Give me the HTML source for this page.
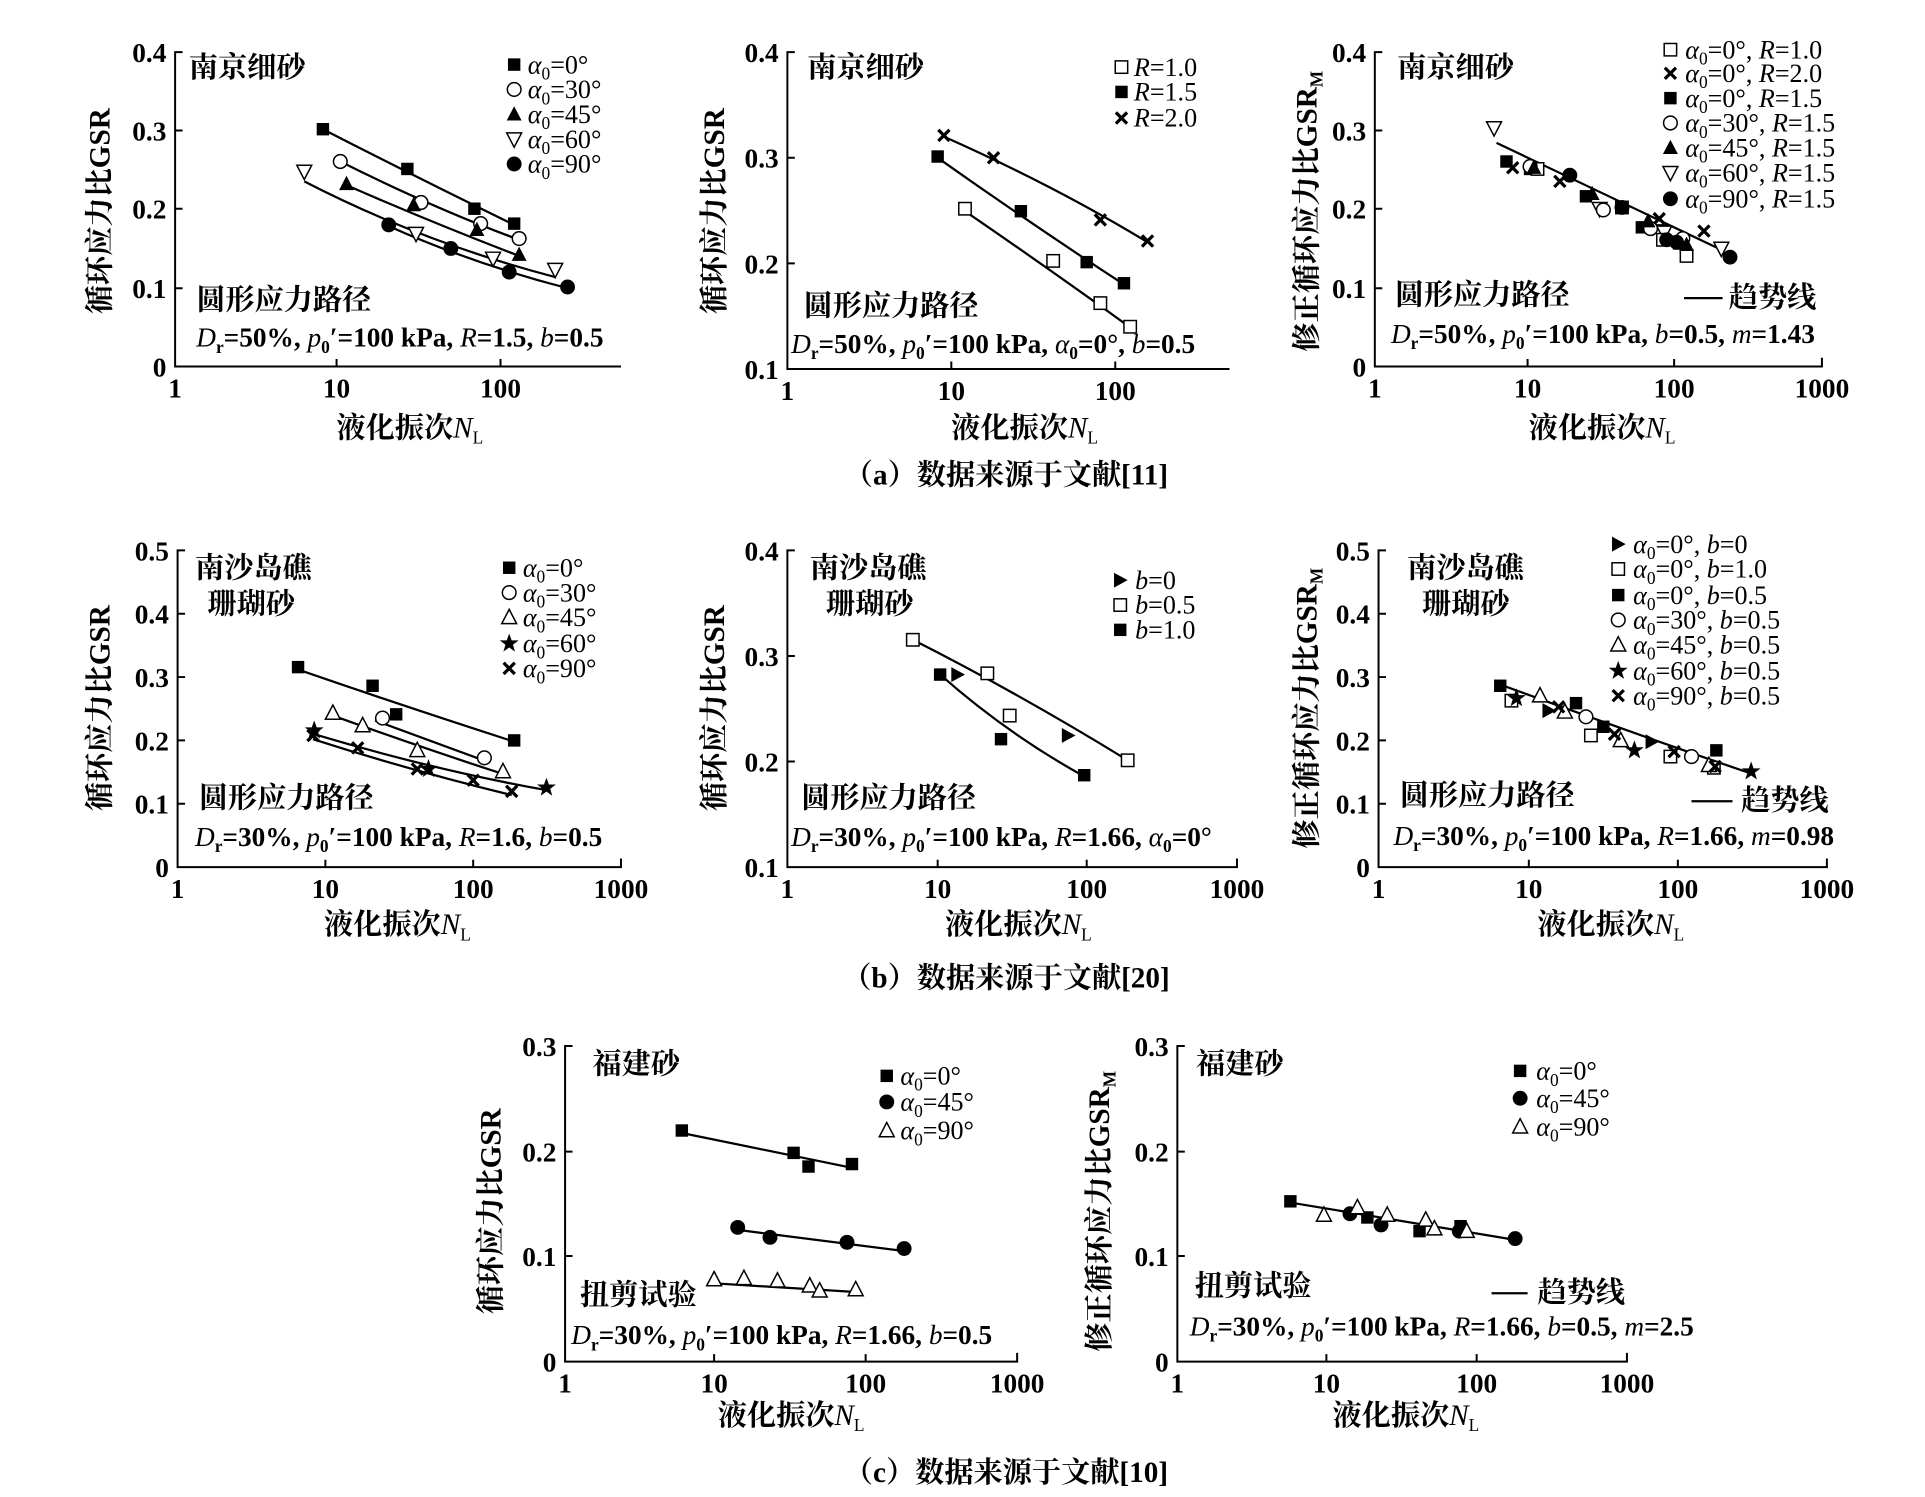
<!DOCTYPE html>
<html><head><meta charset="utf-8"><style>
html,body{margin:0;padding:0;background:#fff;}
svg{display:block;}
text{font-family:"Liberation Serif","Noto Serif CJK SC",serif;fill:#000;}
.t{font-size:22px;font-weight:bold;}
.c{font-size:23.5px;font-weight:bold;}
.p{font-size:22px;font-weight:bold;}
.l{font-size:21px;}
.i{font-style:italic;font-weight:normal;}
.s{font-size:14px;}
</style></head><body>
<svg width="1925" height="1497" viewBox="0 0 1550 1205" preserveAspectRatio="none" xmlns="http://www.w3.org/2000/svg">
<defs>
<rect id="sq" x="-5" y="-5" width="10" height="10" fill="#000"/>
<rect id="osq" x="-5" y="-5" width="10" height="10" fill="#fff" stroke="#000" stroke-width="1.2"/>
<circle id="oc" r="5.5" fill="#fff" stroke="#000" stroke-width="1.2"/>
<circle id="fc" r="6" fill="#000"/>
<polygon id="ft" points="0,-6.5 6,5 -6,5" fill="#000"/>
<polygon id="ot" points="0,-6.5 6,5 -6,5" fill="#fff" stroke="#000" stroke-width="1.2"/>
<polygon id="odt" points="0,6.5 6,-5 -6,-5" fill="#fff" stroke="#000" stroke-width="1.2"/>
<path id="x" d="M-4.5,-4.5L4.5,4.5M4.5,-4.5L-4.5,4.5" stroke="#000" stroke-width="2.6"/>
<polygon id="st" points="0,-8 2,-2.5 7.6,-2.5 3,1 4.7,6.5 0,3.2 -4.7,6.5 -3,1 -7.6,-2.5 -2,-2.5" fill="#000"/>
<polygon id="rt" points="-5,-6 6,0 -5,6" fill="#000"/>
</defs>
<g stroke="#000" stroke-width="1.6" fill="none">
<path d="M147,42H141V295H500M271,295v-6M403,295v-6M141,105h6M141,168h6M141,232h6"/>
<path d="M640,42H634V297H990M766,297v-6M898,297v-6M634,127h6M634,212h6"/>
<path d="M1113,42H1107V295H1467V288M1230,295v-6M1348,295v-6M1107,105h6M1107,168h6M1107,232h6"/>
<path d="M149,443H143V698H500V691M262,698v-6M381,698v-6M143,494h6M143,545h6M143,596h6M143,647h6"/>
<path d="M640,443H634V698H996V691M755,698v-6M875,698v-6M634,528h6M634,613h6"/>
<path d="M1116,443H1110V698H1471V691M1231,698v-6M1351,698v-6M1110,494h6M1110,545h6M1110,596h6M1110,647h6"/>
<path d="M461,842H455V1096H819V1089M575,1096v-6M697,1096v-6M455,927h6M455,1011h6"/>
<path d="M954,842H948V1096H1310V1089M1068,1096v-6M1189,1096v-6M948,927h6M948,1011h6"/>
</g>
<g stroke="#000" stroke-width="1.8" fill="none">
<path d="M260,104Q340,145 414,181"/>
<path d="M274,130Q350,168 418,193"/>
<path d="M279,149Q345,178 418,206"/>
<path d="M245,146Q340,195 447,223"/>
<path d="M313,182Q380,212 457,232"/>
<path d="M777,170Q850,220 912,265"/>
<path d="M755,127Q830,180 905,229"/>
<path d="M760,110Q850,150 924,195"/>
<path d="M1205,115L1388,202"/>
<path d="M1356,240H1387"/>
<path d="M240,539Q330,570 414,597"/>
<path d="M302,580L392,613"/>
<path d="M268,576Q340,602 405,623"/>
<path d="M253,591Q350,620 440,636"/>
<path d="M252,595Q330,620 412,640"/>
<path d="M735,515Q820,558 908,612"/>
<path d="M757,543Q810,590 873,625"/>
<path d="M1208,551Q1320,592 1411,623"/>
<path d="M1362,645H1395"/>
<path d="M549,912L686,940"/>
<path d="M594,990L728,1007"/>
<path d="M575,1033L689,1040"/>
<path d="M1039,968L1220,998"/>
<path d="M1201,1041H1230"/>
</g>
<use href="#sq" x="260" y="104"/><use href="#sq" x="328" y="136"/><use href="#sq" x="382" y="168"/><use href="#sq" x="414" y="180"/>
<use href="#oc" x="274" y="130"/><use href="#oc" x="339" y="163"/><use href="#oc" x="387" y="180"/><use href="#oc" x="418" y="192"/>
<use href="#ft" x="279" y="148"/><use href="#ft" x="333" y="165"/><use href="#ft" x="384" y="185"/><use href="#ft" x="418" y="205"/>
<use href="#odt" x="245" y="138"/><use href="#odt" x="335" y="188"/><use href="#odt" x="397" y="208"/><use href="#odt" x="447" y="217"/>
<use href="#fc" x="313" y="181"/><use href="#fc" x="363" y="200"/><use href="#fc" x="410" y="219"/><use href="#fc" x="457" y="231"/>
<use href="#sq" x="414" y="52"/><use href="#oc" x="414" y="72"/><use href="#ft" x="414" y="92"/><use href="#odt" x="414" y="112"/><use href="#fc" x="414" y="132"/>
<use href="#osq" x="777" y="168"/><use href="#osq" x="848" y="210"/><use href="#osq" x="886" y="244"/><use href="#osq" x="910" y="263"/>
<use href="#sq" x="755" y="126"/><use href="#sq" x="822" y="170"/><use href="#sq" x="875" y="211"/><use href="#sq" x="905" y="228"/>
<use href="#x" x="760" y="109"/><use href="#x" x="800" y="127"/><use href="#x" x="886" y="177"/><use href="#x" x="924" y="194"/>
<use href="#osq" x="903" y="54"/><use href="#sq" x="903" y="74"/><use href="#x" x="903" y="95"/>
<use href="#odt" x="1203" y="103"/><use href="#odt" x="1288" y="168"/><use href="#odt" x="1336" y="186"/><use href="#odt" x="1340" y="187"/><use href="#odt" x="1386" y="200"/>
<use href="#sq" x="1213" y="130"/><use href="#sq" x="1232" y="136"/><use href="#sq" x="1277" y="158"/><use href="#sq" x="1322" y="183"/><use href="#sq" x="1352" y="196"/>
<use href="#osq" x="1238" y="136"/><use href="#osq" x="1306" y="167"/><use href="#osq" x="1339" y="193"/><use href="#osq" x="1358" y="206"/>
<use href="#x" x="1218" y="135"/><use href="#x" x="1256" y="146"/><use href="#x" x="1336" y="176"/><use href="#x" x="1372" y="186"/>
<use href="#oc" x="1232" y="134"/><use href="#oc" x="1291" y="169"/><use href="#oc" x="1329" y="184"/><use href="#oc" x="1355" y="192"/>
<use href="#ft" x="1235" y="135"/><use href="#ft" x="1282" y="156"/><use href="#ft" x="1327" y="178"/><use href="#ft" x="1358" y="197"/>
<use href="#fc" x="1264" y="141"/><use href="#fc" x="1306" y="167"/><use href="#fc" x="1342" y="193"/><use href="#fc" x="1350" y="195"/><use href="#fc" x="1393" y="207"/>
<use href="#osq" x="1345" y="40"/><use href="#x" x="1345" y="59"/><use href="#sq" x="1345" y="79"/><use href="#oc" x="1345" y="99"/><use href="#ft" x="1345" y="119"/><use href="#odt" x="1345" y="139"/><use href="#fc" x="1345" y="160"/>
<use href="#sq" x="240" y="537"/><use href="#sq" x="300" y="552"/><use href="#sq" x="319" y="575"/><use href="#sq" x="414" y="596"/>
<use href="#oc" x="308" y="578"/><use href="#oc" x="390" y="610"/>
<use href="#ot" x="268" y="574"/><use href="#ot" x="292" y="584"/><use href="#ot" x="336" y="604"/><use href="#ot" x="405" y="621"/>
<use href="#st" x="253" y="588"/><use href="#st" x="345" y="619"/><use href="#st" x="440" y="634"/>
<use href="#x" x="252" y="592"/><use href="#x" x="288" y="602"/><use href="#x" x="336" y="619"/><use href="#x" x="381" y="628"/><use href="#x" x="412" y="637"/>
<use href="#sq" x="410" y="457"/><use href="#oc" x="410" y="477"/><use href="#ot" x="410" y="497"/><use href="#st" x="410" y="518"/><use href="#x" x="410" y="538"/>
<use href="#osq" x="735" y="515"/><use href="#osq" x="795" y="542"/><use href="#osq" x="813" y="576"/><use href="#osq" x="908" y="612"/>
<use href="#sq" x="757" y="543"/><use href="#sq" x="806" y="595"/><use href="#sq" x="873" y="624"/>
<use href="#rt" x="771" y="543"/><use href="#rt" x="860" y="592"/>
<use href="#rt" x="902" y="467"/><use href="#osq" x="902" y="487"/><use href="#sq" x="902" y="507"/>
<use href="#rt" x="1247" y="572"/><use href="#rt" x="1330" y="597"/>
<use href="#osq" x="1217" y="564"/><use href="#osq" x="1281" y="592"/><use href="#osq" x="1345" y="609"/><use href="#osq" x="1380" y="618"/>
<use href="#sq" x="1208" y="552"/><use href="#sq" x="1269" y="566"/><use href="#sq" x="1291" y="585"/><use href="#sq" x="1382" y="604"/>
<use href="#oc" x="1277" y="577"/><use href="#oc" x="1362" y="609"/>
<use href="#ot" x="1240" y="560"/><use href="#ot" x="1260" y="573"/><use href="#ot" x="1305" y="596"/><use href="#ot" x="1376" y="616"/>
<use href="#st" x="1221" y="562"/><use href="#st" x="1316" y="604"/><use href="#st" x="1410" y="621"/>
<use href="#x" x="1255" y="569"/><use href="#x" x="1300" y="591"/><use href="#x" x="1348" y="605"/><use href="#x" x="1381" y="617"/>
<use href="#rt" x="1303" y="438"/><use href="#osq" x="1303" y="458"/><use href="#sq" x="1303" y="479"/><use href="#oc" x="1303" y="499"/><use href="#ot" x="1303" y="519"/><use href="#st" x="1303" y="540"/><use href="#x" x="1303" y="560"/>
<use href="#sq" x="549" y="910"/><use href="#sq" x="639" y="928"/><use href="#sq" x="651" y="939"/><use href="#sq" x="686" y="937"/>
<use href="#fc" x="594" y="988"/><use href="#fc" x="620" y="996"/><use href="#fc" x="682" y="1000"/><use href="#fc" x="728" y="1005"/>
<use href="#ot" x="575" y="1030"/><use href="#ot" x="599" y="1029"/><use href="#ot" x="626" y="1031"/><use href="#ot" x="652" y="1035"/><use href="#ot" x="660" y="1039"/><use href="#ot" x="689" y="1038"/>
<use href="#sq" x="714" y="866"/><use href="#fc" x="714" y="887"/><use href="#ot" x="714" y="910"/>
<use href="#sq" x="1039" y="967"/><use href="#sq" x="1101" y="980"/><use href="#sq" x="1143" y="991"/><use href="#sq" x="1176" y="987"/>
<use href="#fc" x="1087" y="977"/><use href="#fc" x="1112" y="986"/><use href="#fc" x="1175" y="991"/><use href="#fc" x="1220" y="997"/>
<use href="#ot" x="1066" y="978"/><use href="#ot" x="1093" y="972"/><use href="#ot" x="1117" y="978"/><use href="#ot" x="1148" y="982"/><use href="#ot" x="1155" y="989"/><use href="#ot" x="1181" y="991"/>
<use href="#sq" x="1224" y="862"/><use href="#fc" x="1224" y="884"/><use href="#ot" x="1224" y="907"/>

<g class="t" text-anchor="end">
<text x="134" y="50">0.4</text><text x="134" y="113">0.3</text><text x="134" y="176">0.2</text><text x="134" y="240">0.1</text><text x="134" y="303">0</text>
<text x="627" y="50">0.4</text><text x="627" y="135">0.3</text><text x="627" y="220">0.2</text><text x="627" y="305">0.1</text>
<text x="1100" y="50">0.4</text><text x="1100" y="113">0.3</text><text x="1100" y="176">0.2</text><text x="1100" y="240">0.1</text><text x="1100" y="303">0</text>
<text x="136" y="451">0.5</text><text x="136" y="502">0.4</text><text x="136" y="553">0.3</text><text x="136" y="604">0.2</text><text x="136" y="655">0.1</text><text x="136" y="706">0</text>
<text x="627" y="451">0.4</text><text x="627" y="536">0.3</text><text x="627" y="621">0.2</text><text x="627" y="706">0.1</text>
<text x="1103" y="451">0.5</text><text x="1103" y="502">0.4</text><text x="1103" y="553">0.3</text><text x="1103" y="604">0.2</text><text x="1103" y="655">0.1</text><text x="1103" y="706">0</text>
<text x="448" y="850">0.3</text><text x="448" y="935">0.2</text><text x="448" y="1019">0.1</text><text x="448" y="1104">0</text>
<text x="941" y="850">0.3</text><text x="941" y="935">0.2</text><text x="941" y="1019">0.1</text><text x="941" y="1104">0</text>
</g>
<g class="t" text-anchor="middle">
<text x="141" y="320">1</text><text x="271" y="320">10</text><text x="403" y="320">100</text>
<text x="634" y="322">1</text><text x="766" y="322">10</text><text x="898" y="322">100</text>
<text x="1107" y="320">1</text><text x="1230" y="320">10</text><text x="1348" y="320">100</text><text x="1467" y="320">1000</text>
<text x="143" y="723">1</text><text x="262" y="723">10</text><text x="381" y="723">100</text><text x="500" y="723">1000</text>
<text x="634" y="723">1</text><text x="755" y="723">10</text><text x="875" y="723">100</text><text x="996" y="723">1000</text>
<text x="1110" y="723">1</text><text x="1231" y="723">10</text><text x="1351" y="723">100</text><text x="1471" y="723">1000</text>
<text x="455" y="1121">1</text><text x="575" y="1121">10</text><text x="697" y="1121">100</text><text x="819" y="1121">1000</text>
<text x="948" y="1121">1</text><text x="1068" y="1121">10</text><text x="1189" y="1121">100</text><text x="1310" y="1121">1000</text>
</g>
<g class="c" text-anchor="middle">
<text x="330" y="352">液化振次<tspan class="i">N</tspan><tspan class="s" font-weight="normal" dy="5">L</tspan></text>
<text x="825" y="352">液化振次<tspan class="i">N</tspan><tspan class="s" font-weight="normal" dy="5">L</tspan></text>
<text x="1290" y="352">液化振次<tspan class="i">N</tspan><tspan class="s" font-weight="normal" dy="5">L</tspan></text>
<text x="320" y="752">液化振次<tspan class="i">N</tspan><tspan class="s" font-weight="normal" dy="5">L</tspan></text>
<text x="820" y="752">液化振次<tspan class="i">N</tspan><tspan class="s" font-weight="normal" dy="5">L</tspan></text>
<text x="1297" y="752">液化振次<tspan class="i">N</tspan><tspan class="s" font-weight="normal" dy="5">L</tspan></text>
<text x="637" y="1147">液化振次<tspan class="i">N</tspan><tspan class="s" font-weight="normal" dy="5">L</tspan></text>
<text x="1132" y="1147">液化振次<tspan class="i">N</tspan><tspan class="s" font-weight="normal" dy="5">L</tspan></text>
<text transform="translate(88,170) rotate(-90)">循环应力比GSR</text>
<text transform="translate(583,170) rotate(-90)">循环应力比GSR</text>
<text transform="translate(1060,170) rotate(-90)">修正循环应力比GSR<tspan class="s" dy="5">M</tspan></text>
<text transform="translate(88,570) rotate(-90)">循环应力比GSR</text>
<text transform="translate(583,570) rotate(-90)">循环应力比GSR</text>
<text transform="translate(1060,570) rotate(-90)">修正循环应力比GSR<tspan class="s" dy="5">M</tspan></text>
<text transform="translate(403,975) rotate(-90)">循环应力比GSR</text>
<text transform="translate(893,975) rotate(-90)">修正循环应力比GSR<tspan class="s" dy="5">M</tspan></text>
<text x="810" y="390">（a）数据来源于文献[11]</text>
<text x="810" y="795">（b）数据来源于文献[20]</text>
<text x="810" y="1193">（c）数据来源于文献[10]</text>
</g>
<g class="c">
<text x="152" y="62">南京细砂</text><text x="158" y="249">圆形应力路径</text>
<text x="650" y="62">南京细砂</text><text x="647" y="254">圆形应力路径</text>
<text x="1125" y="62">南京细砂</text><text x="1123" y="245">圆形应力路径</text><text x="1392" y="247">趋势线</text>
<text x="157" y="465">南沙岛礁</text><text x="167" y="494">珊瑚砂</text><text x="160" y="650">圆形应力路径</text>
<text x="652" y="465">南沙岛礁</text><text x="665" y="494">珊瑚砂</text><text x="645" y="650">圆形应力路径</text>
<text x="1133" y="465">南沙岛礁</text><text x="1145" y="494">珊瑚砂</text><text x="1127" y="648">圆形应力路径</text><text x="1402" y="652">趋势线</text>
<text x="477" y="864">福建砂</text><text x="467" y="1050">扭剪试验</text>
<text x="963" y="864">福建砂</text><text x="962" y="1043">扭剪试验</text><text x="1238" y="1048">趋势线</text>
</g>
<g class="p">
<text x="158" y="279"><tspan class="i">D</tspan><tspan class="s" dy="5">r</tspan><tspan dy="-5">=50%, </tspan><tspan class="i">p</tspan><tspan class="s" dy="5">0</tspan><tspan dy="-5">′=100 kPa, </tspan><tspan class="i">R</tspan>=1.5, <tspan class="i">b</tspan>=0.5</text>
<text x="637" y="284"><tspan class="i">D</tspan><tspan class="s" dy="5">r</tspan><tspan dy="-5">=50%, </tspan><tspan class="i">p</tspan><tspan class="s" dy="5">0</tspan><tspan dy="-5">′=100 kPa, </tspan><tspan class="i">α</tspan><tspan class="s" dy="5">0</tspan><tspan dy="-5">=0°, </tspan><tspan class="i">b</tspan>=0.5</text>
<text x="1120" y="276"><tspan class="i">D</tspan><tspan class="s" dy="5">r</tspan><tspan dy="-5">=50%, </tspan><tspan class="i">p</tspan><tspan class="s" dy="5">0</tspan><tspan dy="-5">′=100 kPa, </tspan><tspan class="i">b</tspan>=0.5, <tspan class="i">m</tspan>=1.43</text>
<text x="157" y="681"><tspan class="i">D</tspan><tspan class="s" dy="5">r</tspan><tspan dy="-5">=30%, </tspan><tspan class="i">p</tspan><tspan class="s" dy="5">0</tspan><tspan dy="-5">′=100 kPa, </tspan><tspan class="i">R</tspan>=1.6, <tspan class="i">b</tspan>=0.5</text>
<text x="637" y="681"><tspan class="i">D</tspan><tspan class="s" dy="5">r</tspan><tspan dy="-5">=30%, </tspan><tspan class="i">p</tspan><tspan class="s" dy="5">0</tspan><tspan dy="-5">′=100 kPa, </tspan><tspan class="i">R</tspan>=1.66, <tspan class="i">α</tspan><tspan class="s" dy="5">0</tspan><tspan dy="-5">=0°</tspan></text>
<text x="1122" y="680"><tspan class="i">D</tspan><tspan class="s" dy="5">r</tspan><tspan dy="-5">=30%, </tspan><tspan class="i">p</tspan><tspan class="s" dy="5">0</tspan><tspan dy="-5">′=100 kPa, </tspan><tspan class="i">R</tspan>=1.66, <tspan class="i">m</tspan>=0.98</text>
<text x="460" y="1082"><tspan class="i">D</tspan><tspan class="s" dy="5">r</tspan><tspan dy="-5">=30%, </tspan><tspan class="i">p</tspan><tspan class="s" dy="5">0</tspan><tspan dy="-5">′=100 kPa, </tspan><tspan class="i">R</tspan>=1.66, <tspan class="i">b</tspan>=0.5</text>
<text x="958" y="1075"><tspan class="i">D</tspan><tspan class="s" dy="5">r</tspan><tspan dy="-5">=30%, </tspan><tspan class="i">p</tspan><tspan class="s" dy="5">0</tspan><tspan dy="-5">′=100 kPa, </tspan><tspan class="i">R</tspan>=1.66, <tspan class="i">b</tspan>=0.5, <tspan class="i">m</tspan>=2.5</text>
</g>
<g class="l">
<text x="425" y="59"><tspan class="i">α</tspan><tspan class="s" dy="5">0</tspan><tspan dy="-5">=0°</tspan></text>
<text x="425" y="79"><tspan class="i">α</tspan><tspan class="s" dy="5">0</tspan><tspan dy="-5">=30°</tspan></text>
<text x="425" y="99"><tspan class="i">α</tspan><tspan class="s" dy="5">0</tspan><tspan dy="-5">=45°</tspan></text>
<text x="425" y="119"><tspan class="i">α</tspan><tspan class="s" dy="5">0</tspan><tspan dy="-5">=60°</tspan></text>
<text x="425" y="139"><tspan class="i">α</tspan><tspan class="s" dy="5">0</tspan><tspan dy="-5">=90°</tspan></text>
<text x="913" y="61"><tspan class="i">R</tspan>=1.0</text>
<text x="913" y="81"><tspan class="i">R</tspan>=1.5</text>
<text x="913" y="102"><tspan class="i">R</tspan>=2.0</text>
<text x="1357" y="47"><tspan class="i">α</tspan><tspan class="s" dy="5">0</tspan><tspan dy="-5">=0°, </tspan><tspan class="i">R</tspan>=1.0</text>
<text x="1357" y="66"><tspan class="i">α</tspan><tspan class="s" dy="5">0</tspan><tspan dy="-5">=0°, </tspan><tspan class="i">R</tspan>=2.0</text>
<text x="1357" y="86"><tspan class="i">α</tspan><tspan class="s" dy="5">0</tspan><tspan dy="-5">=0°, </tspan><tspan class="i">R</tspan>=1.5</text>
<text x="1357" y="106"><tspan class="i">α</tspan><tspan class="s" dy="5">0</tspan><tspan dy="-5">=30°, </tspan><tspan class="i">R</tspan>=1.5</text>
<text x="1357" y="126"><tspan class="i">α</tspan><tspan class="s" dy="5">0</tspan><tspan dy="-5">=45°, </tspan><tspan class="i">R</tspan>=1.5</text>
<text x="1357" y="146"><tspan class="i">α</tspan><tspan class="s" dy="5">0</tspan><tspan dy="-5">=60°, </tspan><tspan class="i">R</tspan>=1.5</text>
<text x="1357" y="167"><tspan class="i">α</tspan><tspan class="s" dy="5">0</tspan><tspan dy="-5">=90°, </tspan><tspan class="i">R</tspan>=1.5</text>
<text x="421" y="464"><tspan class="i">α</tspan><tspan class="s" dy="5">0</tspan><tspan dy="-5">=0°</tspan></text>
<text x="421" y="484"><tspan class="i">α</tspan><tspan class="s" dy="5">0</tspan><tspan dy="-5">=30°</tspan></text>
<text x="421" y="504"><tspan class="i">α</tspan><tspan class="s" dy="5">0</tspan><tspan dy="-5">=45°</tspan></text>
<text x="421" y="525"><tspan class="i">α</tspan><tspan class="s" dy="5">0</tspan><tspan dy="-5">=60°</tspan></text>
<text x="421" y="545"><tspan class="i">α</tspan><tspan class="s" dy="5">0</tspan><tspan dy="-5">=90°</tspan></text>
<text x="914" y="474"><tspan class="i">b</tspan>=0</text>
<text x="914" y="494"><tspan class="i">b</tspan>=0.5</text>
<text x="914" y="514"><tspan class="i">b</tspan>=1.0</text>
<text x="1315" y="445"><tspan class="i">α</tspan><tspan class="s" dy="5">0</tspan><tspan dy="-5">=0°, </tspan><tspan class="i">b</tspan>=0</text>
<text x="1315" y="465"><tspan class="i">α</tspan><tspan class="s" dy="5">0</tspan><tspan dy="-5">=0°, </tspan><tspan class="i">b</tspan>=1.0</text>
<text x="1315" y="486"><tspan class="i">α</tspan><tspan class="s" dy="5">0</tspan><tspan dy="-5">=0°, </tspan><tspan class="i">b</tspan>=0.5</text>
<text x="1315" y="506"><tspan class="i">α</tspan><tspan class="s" dy="5">0</tspan><tspan dy="-5">=30°, </tspan><tspan class="i">b</tspan>=0.5</text>
<text x="1315" y="526"><tspan class="i">α</tspan><tspan class="s" dy="5">0</tspan><tspan dy="-5">=45°, </tspan><tspan class="i">b</tspan>=0.5</text>
<text x="1315" y="547"><tspan class="i">α</tspan><tspan class="s" dy="5">0</tspan><tspan dy="-5">=60°, </tspan><tspan class="i">b</tspan>=0.5</text>
<text x="1315" y="567"><tspan class="i">α</tspan><tspan class="s" dy="5">0</tspan><tspan dy="-5">=90°, </tspan><tspan class="i">b</tspan>=0.5</text>
<text x="725" y="873"><tspan class="i">α</tspan><tspan class="s" dy="5">0</tspan><tspan dy="-5">=0°</tspan></text>
<text x="725" y="894"><tspan class="i">α</tspan><tspan class="s" dy="5">0</tspan><tspan dy="-5">=45°</tspan></text>
<text x="725" y="917"><tspan class="i">α</tspan><tspan class="s" dy="5">0</tspan><tspan dy="-5">=90°</tspan></text>
<text x="1237" y="869"><tspan class="i">α</tspan><tspan class="s" dy="5">0</tspan><tspan dy="-5">=0°</tspan></text>
<text x="1237" y="891"><tspan class="i">α</tspan><tspan class="s" dy="5">0</tspan><tspan dy="-5">=45°</tspan></text>
<text x="1237" y="914"><tspan class="i">α</tspan><tspan class="s" dy="5">0</tspan><tspan dy="-5">=90°</tspan></text>
</g>
</svg>
</body></html>
